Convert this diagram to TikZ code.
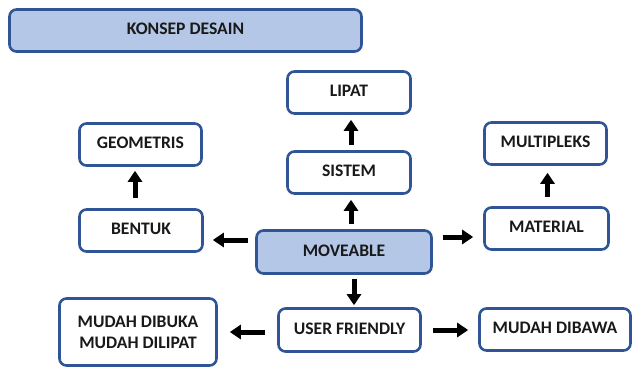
\documentclass[tikz,border=0pt]{standalone}
\usepackage{fontspec}
\setmainfont{Carlito}
\usetikzlibrary{arrows.meta,calc}
\definecolor{bordc}{RGB}{47,85,151}
\definecolor{fillc}{RGB}{180,199,231}
\begin{document}
\begin{tikzpicture}[x=1pt,y=-1pt,
  box/.style={draw=bordc, line width=2.6pt, rounded corners=7pt, fill=white,
    font=\fontsize{17.6pt}{21pt}\selectfont\bfseries, text=black!90,
    inner sep=0pt, text depth=3pt, align=center},
  hl/.style={fill=fillc},
  arr/.style={line width=5pt, -{Triangle[width=14pt,length=11pt]}, black}]
\useasboundingbox (0,0) rectangle (636,369);
\node[box,hl,minimum width=352pt,minimum height=42pt] (konsep) at (185.5,30.5) {KONSEP DESAIN};
\node[box,minimum width=123pt,minimum height=42pt] (lipat) at (349,92.5) {LIPAT};
\node[box,minimum width=123pt,minimum height=42pt] (sistem) at (349,172.5) {SISTEM};
\node[box,minimum width=122pt,minimum height=42pt] (geom) at (140.5,144.5) {GEOMETRIS};
\node[box,minimum width=122pt,minimum height=42pt] (multi) at (545.5,143.5) {MULTIPLEKS};
\node[box,minimum width=123pt,minimum height=42pt] (bentuk) at (141,230.5) {BENTUK};
\node[box,minimum width=124pt,minimum height=42pt] (material) at (546.5,228.5) {MATERIAL};
\node[box,hl,minimum width=175pt,minimum height=43pt] (moveable) at (344,252) {MOVEABLE};
\node[box,minimum width=142pt,minimum height=43pt] (uf) at (349.5,330) {USER FRIENDLY};
\node[box,minimum width=157pt,minimum height=67pt,text depth=0pt] (dibuka) at (138,332) {MUDAH DIBUKA\\MUDAH DILIPAT};
\node[box,minimum width=151pt,minimum height=42pt] (dibawa) at (555,329.5) {MUDAH DIBAWA};
% vertical arrows
\draw[arr, shorten <=5pt, shorten >=5pt] ([xshift=7pt]moveable.north) -- ([xshift=7pt]moveable.north |- sistem.south);
\draw[arr, shorten <=5pt, shorten >=5pt] ([xshift=2pt]sistem.north) -- ([xshift=2pt]sistem.north |- lipat.south);
\draw[arr, shorten <=9pt, shorten >=7pt] ([xshift=1pt]material.north) -- ([xshift=1pt]material.north |- multi.south);
\draw[arr, shorten <=10pt, shorten >=4pt] ([xshift=-6pt]bentuk.north) -- ([xshift=-6pt]bentuk.north |- geom.south);
\draw[arr, shorten <=4pt, shorten >=2pt] ([xshift=10pt]moveable.south) -- ([xshift=10pt]moveable.south |- uf.north);
% horizontal arrows
\draw[arr, shorten <=7pt, shorten >=9pt] ([yshift=12pt]moveable.west) -- ([yshift=12pt]moveable.west -| bentuk.east);
\draw[arr, shorten <=10pt, shorten >=10pt] ([yshift=15pt]moveable.east) -- ([yshift=15pt]moveable.east -| material.west);
\draw[arr, shorten <=12pt, shorten >=12pt] ([yshift=-2pt]uf.west) -- ([yshift=-2pt]uf.west -| dibuka.east);
\draw[arr, shorten <=11pt, shorten >=10pt] (uf.east) -- (uf.east -| dibawa.west);
\end{tikzpicture}
\end{document}
